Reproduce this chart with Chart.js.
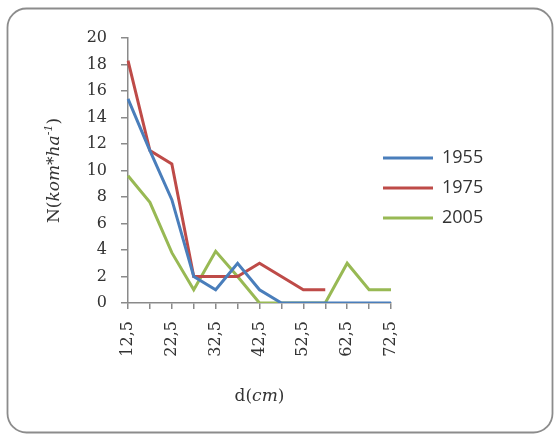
<!DOCTYPE html>
<html>
<head>
<meta charset="utf-8">
<script src="https://cdn.jsdelivr.net/npm/chart.js@4"></script>
<style>
html,body{margin:0;padding:0;background:#fff;}
#wrap{width:554px;height:435px;}
</style>
</head>
<body>
<div id="wrap"><canvas id="c" width="554" height="435"></canvas></div>
<script>
const categories = ['12,5','17,5','22,5','27,5','32,5','37,5','42,5','47,5','52,5','57,5','62,5','67,5','72,5'];
const seriesNames = ['1955','1975','2005'];
const values1955 = [15.4, 11.5, 7.8, 2, 1, 3, 1, 0, 0, 0, 0, 0, 0];
const values1975 = [18.3, 11.5, 10.5, 2, 2, 2, 3, 2, 1, 1, null, null, null];
const values2005 = [9.6, 7.6, 3.8, 1, 3.9, 2, 0, 0, 0, 0, 3, 1, 1];
const yTicks = [0, 2, 4, 6, 8, 10, 12, 14, 16, 18, 20];
const colors = ['#4A7EBB', '#BE4B48', '#98B954'];

const axisColor = '#8a8a8a';
const tickFont = {family: 'DejaVu Serif', size: 16};

const framePlugin = {
  id: 'frame',
  beforeDraw(chart) {
    const ctx = chart.ctx;
    ctx.save();
    ctx.fillStyle = '#fff';
    ctx.fillRect(0, 0, chart.width, chart.height);
    ctx.strokeStyle = '#8c8c8c';
    ctx.lineWidth = 1.8;
    ctx.beginPath();
    ctx.roundRect(7.5, 8.5, 545, 424, 19);
    ctx.stroke();
    ctx.restore();
  }
};

function drawParts(ctx, parts, cx, cy) {
  let total = 0;
  parts.forEach(p => { ctx.font = p.font; p.w = ctx.measureText(p.t).width; total += p.w; });
  let x = cx - total / 2;
  ctx.textBaseline = 'middle';
  ctx.textAlign = 'left';
  parts.forEach(p => { ctx.font = p.font; ctx.fillText(p.t, x, cy + (p.dy || 0)); x += p.w; });
}

const titlePlugin = {
  id: 'axisTitles',
  afterDraw(chart) {
    const ctx = chart.ctx;
    const a = chart.chartArea;
    ctx.save();
    ctx.fillStyle = '#333';
    // y title
    ctx.translate(55, (a.top + a.bottom) / 2);
    ctx.rotate(-Math.PI / 2);
    drawParts(ctx, [
      {t: 'N(', font: '17px "DejaVu Serif"'},
      {t: 'kom*ha', font: 'italic 17px "DejaVu Serif"'},
      {t: '-1', font: 'italic 11px "DejaVu Serif"', dy: -6},
      {t: ')', font: '17px "DejaVu Serif"'}
    ], 0, 0);
    ctx.setTransform(1, 0, 0, 1, 0, 0);
    // x title
    drawParts(ctx, [
      {t: 'd(', font: '17px "DejaVu Serif"'},
      {t: 'cm', font: 'italic 17px "DejaVu Serif"'},
      {t: ')', font: '17px "DejaVu Serif"'}
    ], (a.left + a.right) / 2, 397);
    ctx.restore();
  }
};

const legendPlace = {
  id: 'legendPlace',
  afterLayout(chart) {
    const lg = chart.legend;
    if (!lg) return;
    const w = lg.width, h = lg.height;
    lg.left = 371; lg.top = 137;
    lg.right = lg.left + w; lg.bottom = lg.top + h;
  }
};

const seriesData = [values1955, values1975, values2005];

new Chart(document.getElementById('c'), {
  type: 'line',
  data: {
    labels: categories,
    datasets: seriesNames.map((n, i) => ({
      label: n,
      data: seriesData[i],
      borderColor: colors[i],
      backgroundColor: colors[i],
      borderWidth: 3,
      pointRadius: 0,
      tension: 0,
      fill: false,
      spanGaps: false
    }))
  },
  options: {
    responsive: false,
    animation: false,
    devicePixelRatio: 1,
    layout: {padding: {left: 0, top: 38, right: 163, bottom: 0}},
    plugins: {
      legend: {
        position: 'chartArea',
        align: 'start',
        labels: {
          boxWidth: 50,
          boxHeight: 0,
          padding: 12,
          color: '#333',
          font: {family: 'Open Sans', size: 18}
        }
      },
      tooltip: {enabled: false}
    },
    scales: {
      x: {
        type: 'category',
        offset: false,
        border: {color: axisColor, width: 1.5},
        grid: {display: true, drawOnChartArea: false, drawTicks: true, tickLength: 6, color: axisColor, lineWidth: 1.5},
        ticks: {
          autoSkip: false,
          minRotation: 90,
          maxRotation: 90,
          padding: 12,
          color: '#333',
          font: tickFont,
          callback: function(v, i) { return i % 2 === 0 ? categories[i] : ''; }
        },
        afterFit(s) { s.height = 132; }
      },
      y: {
        min: 0,
        max: 20,
        border: {color: axisColor, width: 1.5},
        grid: {display: true, drawOnChartArea: false, drawTicks: true, tickLength: 7, color: axisColor, lineWidth: 1.5},
        afterBuildTicks(s) { s.ticks = yTicks.map(v => ({value: v})); },
        ticks: {
          padding: 14,
          color: '#333',
          font: tickFont
        },
        afterFit(s) { s.width = 128; }
      }
    }
  },
  plugins: [framePlugin, titlePlugin, legendPlace]
});
</script>
</body>
</html>
